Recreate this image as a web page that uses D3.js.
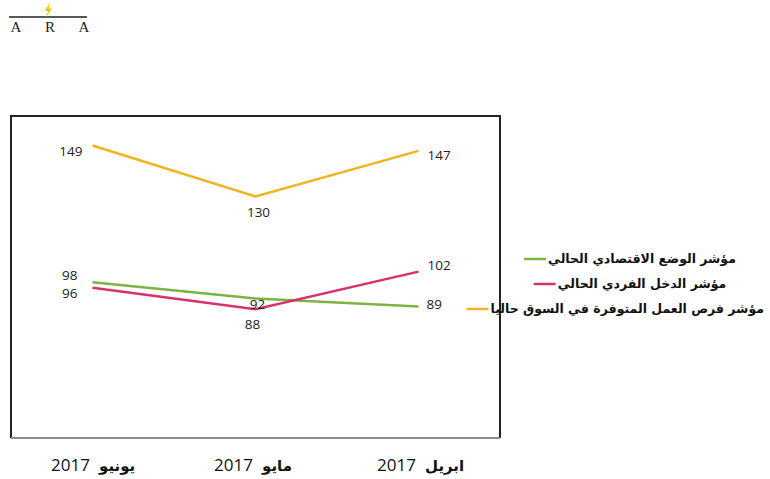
<!DOCTYPE html>
<html>
<head>
<meta charset="utf-8">
<script src="https://cdn.jsdelivr.net/npm/d3@7"></script>
<style>
  body { margin: 0; background: #fff; }
  svg { display: block; }
</style>
</head>
<body>
<div id="chart"></div>
<script>
// months, oldest first (drawn right to left)
var months = ["ابريل", "مايو", "يونيو"];
var year = "2017";

var seriesNames = [
  "مؤشر الوضع الاقتصادي الحالي",
  "مؤشر الدخل الفردي الحالي",
  "مؤشر فرص العمل المتوفرة في السوق حاليا"
];
var economyValues = [89, 92, 98];
var incomeValues = [102, 88, 96];
var jobsValues = [147, 130, 149];

var yDomain = [40, 160];

// set the dimensions of the graph
var width = 770, height = 479;
var plot = { left: 11, top: 116, right: 500, bottom: 438 };
var colors = ["#7cb342", "#d6336c", "#f0b323"];

var svg = d3.select("#chart").append("svg")
  .attr("width", width)
  .attr("height", height);

// small ARA logo top left
var logo = svg.append("g");
logo.append("line")
  .attr("x1", 9).attr("x2", 87).attr("y1", 17).attr("y2", 17)
  .attr("stroke", "#222").attr("stroke-width", 1.5);
logo.append("path")
  .attr("d", "M50,2 L45,11 L48.5,11 L45.5,18 L52,8.5 L48.5,8.5 Z")
  .attr("fill", "#f2c200");
["A", "R", "A"].forEach(function(l, i) {
  logo.append("text")
    .attr("x", 16 + i * 34).attr("y", 32)
    .attr("text-anchor", "middle")
    .style("font-family", "'Liberation Serif', 'DejaVu Serif', serif")
    .style("font-size", "15px")
    .style("fill", "#222")
    .text(l);
});

// scales: april on the right, june on the left
var x = d3.scalePoint()
  .domain(months)
  .range([plot.right, plot.left])
  .padding(0.5);

var y = d3.scaleLinear()
  .domain(yDomain)
  .range([plot.bottom, plot.top]);

// frame (left, top, right) in black
svg.append("path")
  .attr("d", "M" + plot.left + "," + plot.bottom + "V" + plot.top + "H" + plot.right + "V" + plot.bottom)
  .attr("fill", "none")
  .attr("stroke", "#222")
  .attr("stroke-width", 2);

// x axis, the bottom edge in grey
var xAxis = svg.append("g")
  .attr("transform", "translate(0," + plot.bottom + ")")
  .call(d3.axisBottom(x).tickSize(0).tickPadding(0));
xAxis.select(".domain")
  .attr("d", "M" + plot.left + ",0H" + plot.right)
  .attr("stroke", "#8a8a8a")
  .attr("stroke-width", 2);
xAxis.selectAll(".tick text").remove();
xAxis.selectAll(".tick").each(function(m) {
  var g = d3.select(this);
  g.append("text")
    .attr("x", 6).attr("y", 33)
    .attr("text-anchor", "start")
    .style("font-family", "'DejaVu Sans', sans-serif")
    .style("font-weight", "bold")
    .style("font-size", "15px")
    .style("fill", "#111")
    .text(m);
  g.append("text")
    .attr("x", -3).attr("y", 33)
    .attr("text-anchor", "end")
    .style("font-family", "'Open Sans', sans-serif")
    .style("font-size", "17px")
    .style("fill", "#111")
    .text(year);
});

var series = [
  { name: seriesNames[0], values: economyValues, color: colors[0] },
  { name: seriesNames[1], values: incomeValues, color: colors[1] },
  { name: seriesNames[2], values: jobsValues, color: colors[2] }
];

var line = d3.line()
  .x(function(d) { return x(d.m); })
  .y(function(d) { return y(d.v); });

series.forEach(function(s) {
  svg.append("path")
    .datum(s.values.map(function(v, i) { return { m: months[i], v: v }; }))
    .attr("d", line)
    .attr("fill", "none")
    .attr("stroke", s.color)
    .attr("stroke-width", 2.5);
});

// label placement per series and month: [dx, dy, anchor]
var labelPos = [
  [[8, -2, "start"], [2, 6, "middle"], [-15, -7, "end"]],
  [[9, -6, "start"], [-3, 15, "middle"], [-15, 6, "end"]],
  [[9, 4, "start"], [3, 16, "middle"], [-10, 6, "end"]]
];

series.forEach(function(s, si) {
  s.values.forEach(function(v, i) {
    var p = labelPos[si][i];
    svg.append("text")
      .attr("x", x(months[i]) + p[0])
      .attr("y", y(v) + p[1])
      .attr("dy", "0.35em")
      .attr("text-anchor", p[2])
      .style("font-family", "'Open Sans', sans-serif")
      .style("font-size", "13.5px")
      .style("fill", "#222")
      .text(v);
  });
});

// legend, entries centred around one x
var legendCx = 630;
series.forEach(function(s, i) {
  var ly = 259 + i * 25;
  var g = svg.append("g");
  var t = g.append("text")
    .attr("y", ly)
    .attr("dy", "0.35em")
    .attr("direction", "rtl")
    .attr("text-anchor", "start")
    .style("font-family", "'DejaVu Sans', sans-serif")
    .style("font-weight", "bold")
    .style("font-size", "12.5px")
    .style("fill", "#111")
    .text(s.name);
  var tw = t.node().getComputedTextLength();
  var x0 = Math.min(legendCx - (tw + 24) / 2, width - 6 - 24 - tw);
  g.append("line")
    .attr("x1", x0).attr("x2", x0 + 22)
    .attr("y1", ly).attr("y2", ly)
    .attr("stroke", s.color)
    .attr("stroke-width", 2.5);
  t.attr("x", x0 + 24 + tw);
});
</script>
</body>
</html>
